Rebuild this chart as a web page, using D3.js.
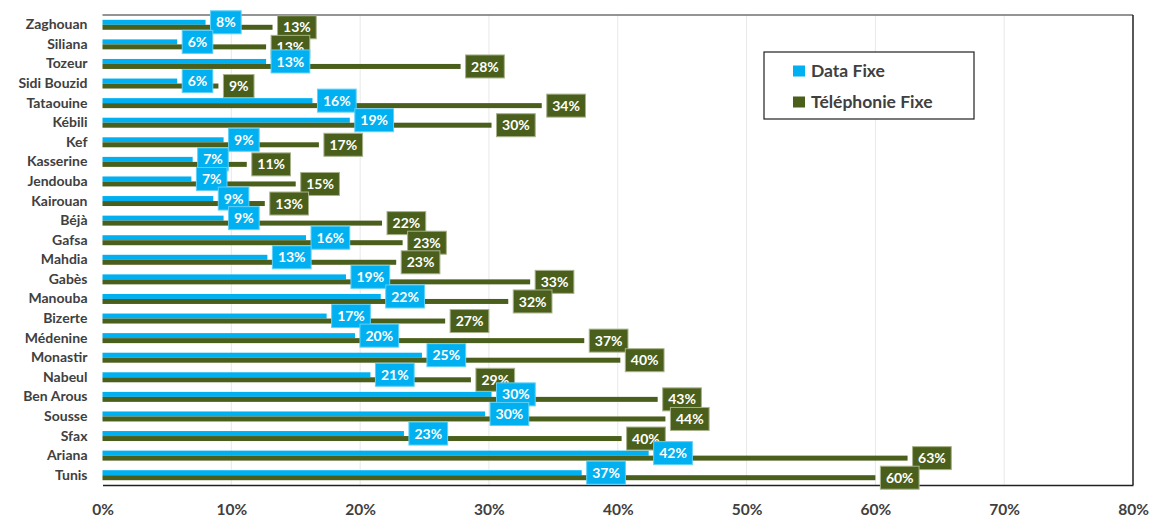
<!DOCTYPE html>
<html>
<head>
<meta charset="utf-8">
<script src="https://cdn.jsdelivr.net/npm/d3@7"></script>
<style>
    body { margin: 0; background: #fff; }
    svg { display: block; font-family: Lato, "Open Sans", sans-serif; font-weight: bold; }
</style>
</head>
<body>
<div id="chart"></div>
<script>
    // regions, top to bottom as in the picture
    var categories = ["Zaghouan", "Siliana", "Tozeur", "Sidi Bouzid", "Tataouine", "Kébili", "Kef",
        "Kasserine", "Jendouba", "Kairouan", "Béjà", "Gafsa", "Mahdia", "Gabès", "Manouba", "Bizerte",
        "Médenine", "Monastir", "Nabeul", "Ben Arous", "Sousse", "Sfax", "Ariana", "Tunis"];

    var dataFixe = [0.080, 0.058, 0.127, 0.058, 0.163, 0.192, 0.094, 0.070, 0.069, 0.086, 0.094, 0.158,
        0.128, 0.189, 0.216, 0.174, 0.196, 0.248, 0.208, 0.302, 0.297, 0.234, 0.424, 0.372];

    var telephonieFixe = [0.132, 0.127, 0.278, 0.090, 0.341, 0.302, 0.168, 0.112, 0.150, 0.126, 0.217,
        0.233, 0.228, 0.332, 0.315, 0.266, 0.374, 0.402, 0.286, 0.431, 0.437, 0.403, 0.625, 0.600];

    var seriesNames = ["Data Fixe", "Téléphonie Fixe"];
    var seriesColors = ["#00b0f0", "#4b5f1c"];
    var tickValues = [0, 0.1, 0.2, 0.3, 0.4, 0.5, 0.6, 0.7, 0.8];

    var width = 1150, height = 518;
    var plotLeft = 102.5, plotRight = 1133, plotTop = 15, plotBottom = 485;
    var pct = d3.format(".0%");

    var svg = d3.select("#chart").append("svg")
        .attr("width", width)
        .attr("height", height);

    var x = d3.scaleLinear().domain([0, 0.8]).range([plotLeft, plotRight]);
    var y = d3.scaleBand().domain(categories).range([plotTop, plotBottom])
        .paddingInner(0.49).paddingOuter(0.245);
    var sub = d3.scaleBand().domain([0, 1]).range([0, y.bandwidth()]);

    // grid
    svg.append("g").selectAll("line")
        .data(tickValues.slice(1, -1))
        .enter().append("line")
        .attr("x1", function (d) { return x(d); })
        .attr("x2", function (d) { return x(d); })
        .attr("y1", plotTop)
        .attr("y2", plotBottom)
        .attr("stroke", "#e8e8e8")
        .attr("stroke-width", 1);

    var series = [dataFixe, telephonieFixe];

    // bars
    series.forEach(function (values, s) {
        svg.append("g").selectAll("rect")
            .data(values)
            .enter().append("rect")
            .attr("x", x(0))
            .attr("y", function (d, i) { return y(categories[i]) + sub(s); })
            .attr("width", function (d) { return x(d) - x(0); })
            .attr("height", sub.bandwidth())
            .attr("fill", seriesColors[s]);
    });

    // frame
    svg.append("line").attr("x1", plotLeft).attr("x2", plotRight).attr("y1", plotTop).attr("y2", plotTop)
        .attr("stroke", "#707070").attr("stroke-width", 1.5);
    svg.append("line").attr("x1", plotRight).attr("x2", plotRight).attr("y1", plotTop).attr("y2", plotBottom)
        .attr("stroke", "#202020").attr("stroke-width", 1.5);

    // axes
    var xAxis = svg.append("g")
        .attr("transform", "translate(0," + plotBottom + ")")
        .call(d3.axisBottom(x).tickValues(tickValues).tickFormat(pct).tickSize(0).tickPadding(19));
    xAxis.select(".domain").attr("stroke", "#202020").attr("stroke-width", 1.5);
    xAxis.selectAll("text").attr("fill", "#404040").style("font-size", "15.5px")
        .style("font-family", "Lato, sans-serif").style("font-weight", "bold");

    var yAxis = svg.append("g")
        .attr("transform", "translate(" + plotLeft + ",0)")
        .call(d3.axisLeft(y).tickSize(0).tickPadding(15));
    yAxis.select(".domain").remove();
    yAxis.selectAll("text").attr("fill", "#404040").style("font-size", "14px")
        .style("font-family", "Lato, sans-serif").style("font-weight", "bold");

    // data labels: green first, blue on top
    [1, 0].forEach(function (s) {
        var g = svg.append("g").selectAll("g")
            .data(series[s])
            .enter().append("g")
            .attr("transform", function (d, i) {
                return "translate(" + (x(d) + 5) + "," + (y(categories[i]) + sub(s) + sub.bandwidth() / 2) + ")";
            });
        g.append("rect")
            .attr("fill", seriesColors[s])
            .attr("stroke", s === 1 ? "#a7b28a" : "#5fd0f7")
            .attr("stroke-width", 1);
        var txt = g.append("text")
            .attr("fill", "#fff")
            .attr("text-anchor", "middle")
            .attr("dy", "0.36em")
            .style("font-size", "14px")
            .text(function (d) { return pct(d); });
        txt.each(function () {
            var w = this.getComputedTextLength() + 11;
            d3.select(this).attr("x", w / 2);
            d3.select(this.parentNode).select("rect")
                .attr("x", 0).attr("y", -11.5).attr("width", w).attr("height", 23);
        });
    });

    // legend
    var legend = svg.append("g").attr("transform", "translate(764,52)");
    legend.append("rect")
        .attr("width", 210).attr("height", 67)
        .attr("fill", "#fff").attr("stroke", "#202020").attr("stroke-width", 1.2);
    var item = legend.selectAll(".item")
        .data(seriesNames)
        .enter().append("g")
        .attr("class", "item")
        .attr("transform", function (d, i) { return "translate(29," + (19 + i * 31) + ")"; });
    item.append("rect")
        .attr("x", 0).attr("y", -5.5).attr("width", 12).attr("height", 11)
        .attr("fill", function (d, i) { return seriesColors[i]; });
    item.append("text")
        .attr("x", 18).attr("dy", "0.36em")
        .attr("fill", "#404040")
        .style("font-size", "17.5px")
        .text(function (d) { return d; });
</script>
</body>
</html>
